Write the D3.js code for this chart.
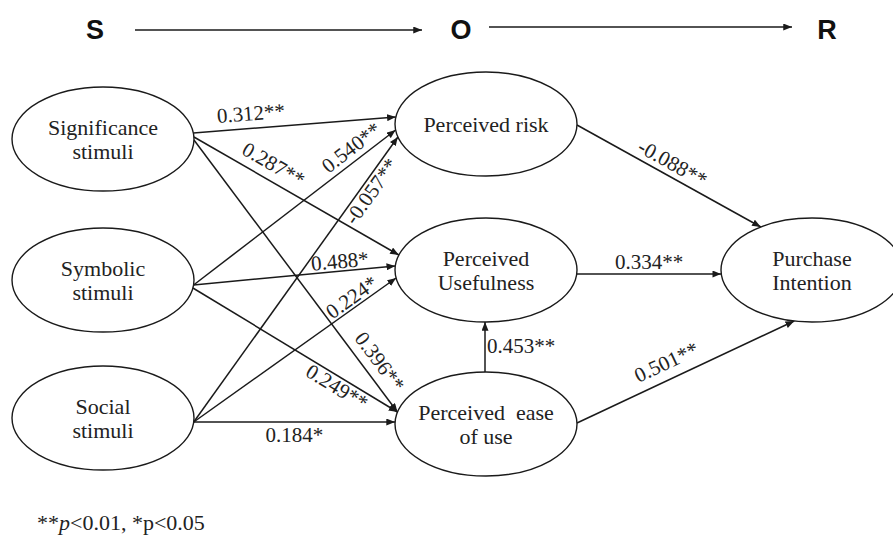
<!DOCTYPE html>
<html>
<head>
<meta charset="utf-8">
<script src="https://cdn.jsdelivr.net/npm/d3@7"></script>
<style>
  html, body { margin: 0; padding: 0; background: #fff; }
  svg { display: block; }
  text { white-space: pre; }
</style>
</head>
<body>
<svg id="chart" width="893" height="540"></svg>
<script>
// ---------------- data ----------------
const stages = ["S", "O", "R"];
const nodeIds = ["sig", "sym", "soc", "pr", "pu", "peou", "pi"];
const nodeLabels = [
  ["Significance", "stimuli"],
  ["Symbolic", "stimuli"],
  ["Social", "stimuli"],
  ["Perceived risk"],
  ["Perceived", "Usefulness"],
  ["Perceived  ease", "of use"],
  ["Purchase", "Intention"]
];
const nodeStage = ["S", "S", "S", "O", "O", "O", "R"];
const pathFrom = ["sig", "sig", "sig", "sym", "soc", "sym", "soc", "sym", "soc", "pr", "pu", "peou", "peou"];
const pathTo   = ["pr", "pu", "peou", "pr", "pr", "pu", "pu", "peou", "peou", "pi", "pi", "pi", "pu"];
const pathCoef = ["0.312**", "0.287**", "0.396**", "0.540**", "-0.057**", "0.488*", "0.224*", "0.249**", "0.184*", "-0.088**", "0.334**", "0.501**", "0.453**"];
const footnoteParts = [["**", false], ["p", true], ["<0.01, *p<0.05", false]];

// ---------------- layout (positions / sizes) ----------------
const W = 893, H = 540;
const colX = d3.scaleOrdinal().domain(stages).range([103, 486, 812]);
const stageLabelX = d3.scaleOrdinal().domain(stages).range([95, 461, 827]);
const nodeY = { sig: 139, sym: 280, soc: 418, pr: 124, pu: 270, peou: 424, pi: 270 };
const RX = 91, RY = 52;
// anchor offsets (dy from node centre) for source/target of each path
const srcDy = [-6, -2, 1, 5, 4, 5, 4, 8, 4, 1, 4, -1, null];
const tgtDy = [-7, -15, -12, 6, 13, -4, 8, -12, -2, -43, 4, 51, null];
// label placement: fraction along path, perpendicular offset (px, + = above)
const labT   = [0.29, 0.35, 0.85, 0.82, 0.83, 0.73, 0.81, 0.73, 0.5, 0.486, 0.5, 0.445, 0.5];
const labOff = [15, 16, 16, 13, -10, 10, 10, -10, -13, 13, 12, 17, 0];

const svg = d3.select("#chart");
const ink = "#1a1a1a";
const serif = "'Liberation Serif', 'Times New Roman', Times, serif";

svg.append("defs").append("marker")
  .attr("id", "arr")
  .attr("markerUnits", "userSpaceOnUse")
  .attr("viewBox", "0 0 10 8")
  .attr("refX", 10).attr("refY", 4)
  .attr("markerWidth", 9).attr("markerHeight", 7)
  .attr("orient", "auto")
  .append("path").attr("d", "M0,0 L10,4 L0,8 Z").attr("fill", ink);

const nodes = nodeIds.map((id, i) => ({
  id, label: nodeLabels[i], cx: colX(nodeStage[i]), cy: nodeY[id]
}));
const byId = Object.fromEntries(nodes.map(n => [n.id, n]));

function sidePoint(n, dy, side) {
  const x = n.cx + side * RX * Math.sqrt(Math.max(0, 1 - (dy / RY) ** 2));
  return [x, n.cy + dy];
}

// ---------------- top S -> O -> R ----------------
const topG = svg.append("g");
topG.selectAll("text.stage").data(stages).join("text")
  .attr("class", "stage")
  .attr("x", d => stageLabelX(d)).attr("y", 30)
  .attr("text-anchor", "middle").attr("dominant-baseline", "central")
  .attr("font-family", "'Liberation Sans', Arial, Helvetica, sans-serif")
  .attr("font-weight", "bold").attr("font-size", 27).attr("fill", "#111")
  .text(d => d);
const stageArrows = [[135, 422, 30], [489, 792, 27]];
topG.selectAll("line.stageArrow").data(stageArrows).join("line")
  .attr("x1", d => d[0]).attr("x2", d => d[1])
  .attr("y1", d => d[2]).attr("y2", d => d[2])
  .attr("stroke", ink).attr("stroke-width", 1.4)
  .attr("marker-end", "url(#arr)");

// ---------------- paths ----------------
const edges = pathFrom.map((f, i) => {
  const s = byId[f], t = byId[pathTo[i]];
  let p0, p1;
  if (srcDy[i] === null) {
    p0 = [s.cx - 1, s.cy - RY];
    p1 = [t.cx - 1, t.cy + RY];
  } else {
    p0 = sidePoint(s, srcDy[i], 1);
    p1 = sidePoint(t, tgtDy[i], -1);
  }
  return { i, p0, p1, coef: pathCoef[i], vertical: srcDy[i] === null };
});

svg.append("g").selectAll("line").data(edges).join("line")
  .attr("x1", d => d.p0[0]).attr("y1", d => d.p0[1])
  .attr("x2", d => d.p1[0]).attr("y2", d => d.p1[1])
  .attr("stroke", ink).attr("stroke-width", 1.5)
  .attr("marker-end", "url(#arr)");

// ---------------- nodes ----------------
const ng = svg.append("g").selectAll("g").data(nodes).join("g");
ng.append("ellipse")
  .attr("cx", d => d.cx).attr("cy", d => d.cy)
  .attr("rx", RX).attr("ry", RY)
  .attr("fill", "#fff").attr("stroke", ink).attr("stroke-width", 1.4);
ng.each(function(d) {
  const g = d3.select(this);
  const n = d.label.length;
  d.label.forEach((line, k) => {
    g.append("text")
      .attr("x", d.cx).attr("y", d.cy + (k - (n - 1) / 2) * 24)
      .attr("text-anchor", "middle").attr("dominant-baseline", "central")
      .attr("font-family", serif).attr("font-size", 22).attr("fill", "#222")
      .text(line);
  });
});

// ---------------- path labels ----------------
const lg = svg.append("g");
edges.forEach(e => {
  const [x0, y0] = e.p0, [x1, y1] = e.p1;
  const t = labT[e.i];
  const px = x0 + (x1 - x0) * t, py = y0 + (y1 - y0) * t;
  if (e.vertical) {
    lg.append("text")
      .attr("x", px + 2).attr("y", py - 1)
      .attr("text-anchor", "start").attr("dominant-baseline", "central")
      .attr("font-family", serif).attr("font-size", 21).attr("fill", "#222")
      .text(e.coef);
    return;
  }
  const ang = Math.atan2(y1 - y0, x1 - x0);
  const off = labOff[e.i];
  const cx = px + Math.sin(ang) * off, cy = py - Math.cos(ang) * off;
  lg.append("text")
    .attr("transform", `translate(${cx},${cy}) rotate(${ang * 180 / Math.PI})`)
    .attr("text-anchor", "middle").attr("dominant-baseline", "central")
    .attr("font-family", serif).attr("font-size", 21).attr("fill", "#222")
    .text(e.coef);
});

// ---------------- footnote ----------------
const fn = svg.append("text")
  .attr("x", 37).attr("y", 530)
  .attr("font-family", serif).attr("font-size", 22).attr("fill", "#222");
fn.selectAll("tspan").data(footnoteParts).join("tspan")
  .attr("font-style", d => d[1] ? "italic" : "normal")
  .text(d => d[0]);
</script>
</body>
</html>
